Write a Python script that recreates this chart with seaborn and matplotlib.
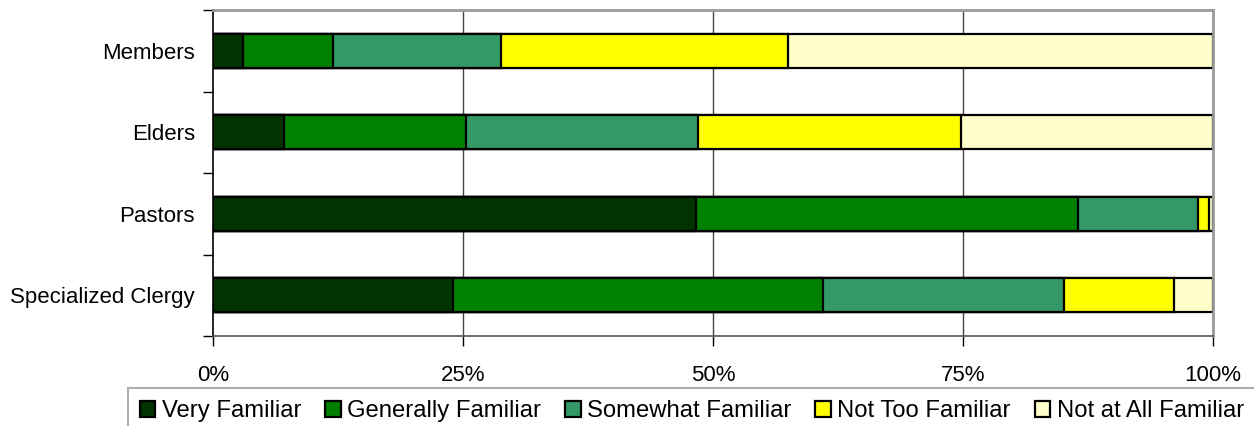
import pandas as pd
import matplotlib.pyplot as plt
import seaborn as sns
import numpy as np

# Familiarity by group, percent of respondents
groups = ["Members", "Elders", "Pastors", "Specialized Clergy"]
levels = ["Very Familiar", "Generally Familiar", "Somewhat Familiar",
          "Not Too Familiar", "Not at All Familiar"]
very_familiar = [3.0, 7.1, 48.3, 24.0]
generally_familiar = [9.0, 18.2, 38.2, 37.0]
somewhat_familiar = [16.8, 23.2, 12.0, 24.1]
not_too_familiar = [28.7, 26.3, 1.1, 11.0]
not_at_all_familiar = [42.5, 25.2, 0.4, 3.9]
colors = ["#003300", "#008000", "#339966", "#FFFF00", "#FFFFCC"]

sns.set_style("white")
plt.rcParams['font.family'] = ['Liberation Sans', 'DejaVu Sans']
plt.rcParams['text.color'] = 'black'
plt.rcParams['xtick.color'] = 'black'
plt.rcParams['ytick.color'] = 'black'

df = pd.DataFrame({
    "group": groups,
    levels[0]: very_familiar,
    levels[1]: generally_familiar,
    levels[2]: somewhat_familiar,
    levels[3]: not_too_familiar,
    levels[4]: not_at_all_familiar,
})
cum = df[levels].cumsum(axis=1)
# scale each row to 100
cum = cum.div(cum[levels[-1]], axis=0) * 100
cum["group"] = df["group"]

fig = plt.figure(figsize=(12.54, 4.26), dpi=100)
ax = fig.add_axes([213 / 1254, 1 - 336 / 426, 1000 / 1254, 326 / 426])

# draw cumulative bars from the largest to the smallest so they stack
for lvl, col in reversed(list(zip(levels, colors))):
    sns.barplot(data=cum, x=lvl, y="group", order=groups, orient="h",
                color=col, edgecolor="black", linewidth=1.6, width=0.42,
                saturation=1, ax=ax, label=lvl)

if ax.get_legend() is not None:
    ax.get_legend().remove()

ax.set_xlim(0, 100)
ax.set_ylim(3.5, -0.5)
ax.set_xlabel("")
ax.set_ylabel("")
ax.set_xticks([0, 25, 50, 75, 100])
ax.set_xticklabels(["0%", "25%", "50%", "75%", "100%"])
ax.set_yticks(range(len(groups)))
ax.set_yticklabels(groups)
ax.set_yticks(np.arange(-0.5, 4, 1), minor=True)
ax.tick_params(axis="y", which="major", length=0, pad=13, labelsize=16, labelcolor="black")
ax.tick_params(axis="y", which="minor", length=7, width=1, color="black", direction="out", left=True)
ax.tick_params(axis="x", which="major", length=7, width=1, color="black", direction="out",
               bottom=True, pad=14, labelsize=16, labelcolor="black")
for x in [25, 50, 75]:
    ax.axvline(x, color="#444444", lw=1, zorder=0)

ax.spines["left"].set_color("black")
ax.spines["left"].set_linewidth(1.2)
ax.spines["bottom"].set_color("#555555")
ax.spines["bottom"].set_linewidth(1.2)
for s in ["top", "right"]:
    ax.spines[s].set_color("#999999")
    ax.spines[s].set_linewidth(2)

handles, labels = ax.get_legend_handles_labels()
order = [labels.index(l) for l in levels]
leg = fig.legend([handles[i] for i in order], levels, loc="upper left",
                 bbox_to_anchor=(128 / 1254, 1 - 388 / 426), ncol=5, fontsize=17.2,
                 frameon=True, fancybox=False, edgecolor="#999999",
                 handlelength=0.65, handleheight=0.65, handletextpad=0.27,
                 columnspacing=1.0, borderpad=0.5, borderaxespad=0)
leg.get_frame().set_linewidth(1.5)

fig.savefig("out.png", dpi=100)
